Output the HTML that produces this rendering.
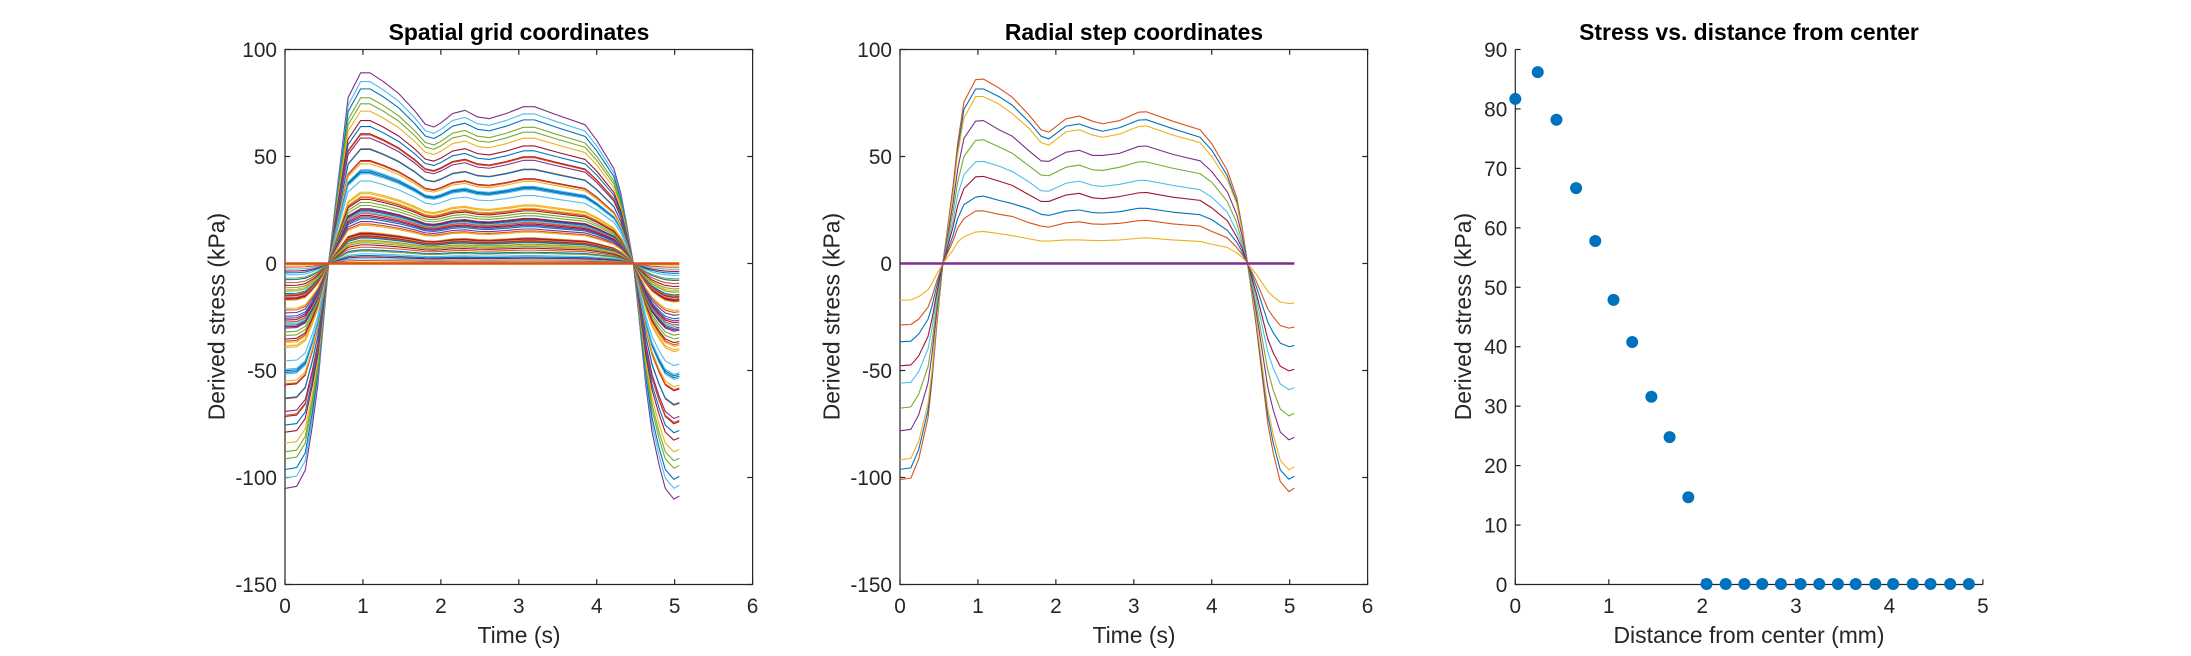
<!DOCTYPE html>
<html lang="en">
<head>
<meta charset="utf-8">
<title>Derived stress figure</title>
<style>
html,body{margin:0;padding:0;background:#fff;}
svg{display:block;}
text{font-family:"Liberation Sans",Arial,sans-serif;fill:#262626;}
</style>
</head>
<body>
<svg id="figure" xmlns="http://www.w3.org/2000/svg" width="2191" height="656" viewBox="0 0 2191 656">
  <rect x="0" y="0" width="2191" height="656" fill="#ffffff"/>
  <g id="panel-a"></g>
  <g id="panel-b"></g>
  <g id="panel-c"></g>
  <text x="519" y="40" text-anchor="middle" font-size="22.9" font-weight="700" style="fill:#000">Spatial grid coordinates</text>
  <text x="1134" y="40" text-anchor="middle" font-size="22.9" font-weight="700" style="fill:#000">Radial step coordinates</text>
  <text x="1749" y="40" text-anchor="middle" font-size="22.9" font-weight="700" style="fill:#000">Stress vs. distance from center</text>
  <text x="519" y="643" text-anchor="middle" font-size="22.9">Time (s)</text>
  <text x="1134" y="643" text-anchor="middle" font-size="22.9">Time (s)</text>
  <text x="1749" y="643" text-anchor="middle" font-size="22.9">Distance from center (mm)</text>
  <text transform="translate(224.5,316.6) rotate(-90)" text-anchor="middle" font-size="22.9">Derived stress (kPa)</text>
  <text transform="translate(839.5,316.6) rotate(-90)" text-anchor="middle" font-size="22.9">Derived stress (kPa)</text>
  <text transform="translate(1471,316.6) rotate(-90)" text-anchor="middle" font-size="22.9">Derived stress (kPa)</text>
</svg>
<script>
// ---- Panel A: spatial grid. One stress-time profile,
// and the peak stress of every grid point.
const gridTime = [0,.15,.26,.35,.42,.49,.56,.68,.81,.97,1.09,1.26,1.46,1.66,1.8,1.91,2.0,2.15,2.31,2.47,2.62,2.84,3.06,3.2,3.5,3.85,4.0,4.22,4.31,4.39,4.47,4.55,4.63,4.71,4.8,4.88,4.99,5.06];
const gridProfile = [-105,-104,-96.5,-76,-57,-29,0,38,77.4,89,89,85,79.3,71.5,65,63.7,65.6,70,71.5,68.4,67.6,70,73.2,73.2,69.2,64.8,57.5,44.3,32.6,17,0,-28,-57,-78.7,-94,-105,-110,-108.5];
const gridPeaks = [89.1,85,81.6,77.4,74.6,71.2,66.8,64,60.6,60.1,58.6,53.6,53.3,48.1,47.7,46.6,43.8,43.2,42.5,41.9,38.6,33.3,32.6,31.3,30.7,29.9,28.5,27.1,25.6,25.1,24.5,23.8,23.2,22.4,21.7,20.9,19.6,18.5,17.8,14.6,14.3,14,13.6,13.2,12.8,12.4,11.9,10.9,10.3,9.6,8.7,7.6,6.4,5.8,4.5,3.7,3,2.2,1.4,.6,0];
const gridColors = "plbggodbdrprbdrolbbllooordggpdblrdpbproordpodrbgogdrbglbdlror";

// ---- Panel B: radial steps
const radialTime = [0,.14,.24,.36,.41,.47,.55,.68,.74,.82,.97,1.07,1.27,1.44,1.66,1.81,1.91,2.13,2.3,2.47,2.6,2.82,3.06,3.16,3.5,3.85,4.0,4.2,4.32,4.39,4.46,4.57,4.72,4.79,4.88,4.99,5.06];
const radialStep1 = [-47.8,-47.4,-43.2,-34,-26,-14,0,17,27,35,40.5,40.7,38.5,36.5,32,29,29,32,32.8,30.7,30.3,31.3,33,33.2,31,29.5,26,20,12.5,7,0,-13.7,-35.4,-41.8,-48,-50.2,-49.4];
const radialStep2 = [-36.6,-36.3,-33,-26,-20,-10.8,0,13,21,27.5,31,31.5,29.5,28,25.5,23,22.5,24.5,25,23.8,23.6,24.2,25.8,25.8,24,22.8,20.5,15.5,10,5.5,0,-10.6,-27.4,-32.4,-37.2,-38.9,-38.3];
const radialStep3 = [-28.7,-28.5,-26,-20.4,-15.6,-8.4,0,10.5,16.5,21,24.5,24.6,23,22,19,17.5,17,19,19.5,18.5,18.3,18.8,20,20.2,18.5,17.5,15,12,7.5,4.2,0,-8.2,-21.2,-25,-29,-30.2,-29.7];
const radialStep4 = [-17.2,-17,-15.5,-12.3,-9.4,-5,0,6.3,10,12.5,14.7,15,14,13,11.5,10.5,10.5,11,11,10.8,10.7,11,11.8,12,11,10.3,9,7.5,5,2.9,0,-5,-13,-15.5,-18,-18.7,-18.4];
const radialStep5 = [0,0,0,0,0,0,0,0,0,0,0,0,0,0,0,0,0,0,0,0,0,0,0,0,0,0,0,0,0,0,0,0,0,0,0,0,0];
const radialStep6 = [-55.9,-55.5,-50.5,-39.8,-30.4,-16.4,0,20,32,41.5,47.5,47.7,45.5,43,38,34,33.8,37.5,38.5,36.5,36,37,38.8,38.8,36.5,34.5,31,24,15,8.5,0,-16,-41.5,-49,-56.3,-59,-58];
const radialStep7 = [-67.6,-67,-61,-48.2,-36.8,-19.9,0,24,38,50,57.5,57.8,54.5,51.5,45.5,41.3,41,45,46,43.8,43.5,45,47.5,47.5,44.5,42,38,29,19,10,0,-19.4,-50,-59.3,-68,-71.2,-70];
const radialStep8 = [-78.2,-77.5,-70.7,-55.7,-42.6,-23,0,28,44,58.5,66.5,66.8,62.5,59.5,52.5,48,47.7,52,52.9,50.5,50.5,51.5,54.7,54.9,51,48,43,33.5,23,13,0,-22.4,-58,-68.6,-78.8,-82.4,-81.2];
const radialStep9 = [-91.8,-91,-83,-65.5,-50,-27,0,32.5,51,68,78,78,74.5,70,63,56.5,55.3,61.5,62.5,60,59,60.5,64,64.3,60,56.5,50,39,28,15,0,-26,-68,-80,-92,-96.4,-95];
const radialStep10 = [-96.2,-95.5,-87,-68.5,-52.5,-28.3,0,34,53,72,81.5,81.6,78,74,66,59.5,58.2,64.2,65.2,63,61.8,63.5,67,67.2,63,59,53,41,29,16,0,-27.5,-71,-84,-96.5,-100.8,-99.4];
const radialStep11 = [-101,-100.3,-91.4,-72,-55,-29.7,0,36,56,75.4,85.9,86.2,82,77.7,69.2,62.5,61.4,67.6,68.9,66.5,65.3,66.8,70.7,70.9,66.5,62.5,56,43.5,31,17,0,-29,-75,-88.7,-101.9,-106.6,-105];
const radialSeries = [radialStep5,radialStep4,radialStep3,radialStep2,radialStep1,radialStep6,radialStep7,radialStep8,radialStep9,radialStep10,radialStep11];
const radialColors = "porbdlgpobr";

// ---- Panel C: stress vs. distance
const distanceMm = [0,.24,.44,.65,.855,1.05,1.25,1.455,1.65,1.85,2.045,2.25,2.45,2.64,2.84,3.05,3.25,3.45,3.64,3.85,4.04,4.25,4.44,4.65,4.85];
const peakStress = [81.6,86.1,78.1,66.6,57.7,47.8,40.7,31.5,24.7,14.6,0,0,0,0,0,0,0,0,0,0,0,0,0,0,0];

// ---- Tick labels
const timeTicks = [0,1,2,3,4,5,6];
const stressTicks = [100,50,0,-50,-100,-150];
const distanceTicks = [0,1,2,3,4,5];
const distanceStressTicks = [90,80,70,60,50,40,30,20,10,0];

const palette = {b:"#0072BD",r:"#D95319",o:"#EDB120",p:"#7E2F8E",g:"#77AC30",l:"#4DBEEE",d:"#A2142F"};
const NS = "http://www.w3.org/2000/svg";
const axTop = 49.5, axBottom = 584.5, axWidth = 467.6;

function make(parent, tag, attrs, text){
  const el = document.createElementNS(NS, tag);
  for(const k in attrs){ el.setAttribute(k, attrs[k]); }
  if(text !== undefined){ el.textContent = text; }
  parent.appendChild(el);
  return el;
}
function linearScale(d0, d1, r0, r1){
  return function(v){ return r0 + (v - d0) / (d1 - d0) * (r1 - r0); };
}
function drawAxes(parent, left, xTicks, yTicks, xMax, yMin, yMax, boxed){
  const right = left + axWidth;
  const sx = linearScale(0, xMax, left, right);
  const sy = linearScale(yMin, yMax, axBottom, axTop);
  const stroke = "#262626", sw = 1.2, len = 5.3;
  xTicks.forEach(function(t){
    const x = sx(t);
    const tick = make(parent, "line", {x1:x, x2:x, y1:axBottom, y2:axBottom-len, stroke:stroke, "stroke-width":sw});
    
    
    if(boxed){
      const topTick = make(parent, "line", {x1:x, x2:x, y1:axTop, y2:axTop+len, stroke:stroke, "stroke-width":sw});
      
      
    }
    const label = make(parent, "text", {x:x, y:613, "text-anchor":"middle", "font-size":20.8}, String(t));
    
    
  });
  yTicks.forEach(function(t){
    const y = sy(t);
    const tick = make(parent, "line", {x1:left, x2:left+len, y1:y, y2:y, stroke:stroke, "stroke-width":sw});
    
    
    if(boxed){
      const rightTick = make(parent, "line", {x1:right, x2:right-len, y1:y, y2:y, stroke:stroke, "stroke-width":sw});
      
      
    }
    const label = make(parent, "text", {x:left-8, y:y+7.5, "text-anchor":"end", "font-size":20.8}, String(t));
    
    
  });
  const pts = boxed
    ? [[left,axTop],[right,axTop],[right,axBottom],[left,axBottom]]
    : [[left,axTop],[left,axBottom],[right,axBottom]];
  const frame = make(parent, boxed ? "polygon" : "polyline", {points:pts.map(function(p){return p.join(",");}).join(" "), fill:"none", stroke:stroke, "stroke-width":sw});
  
  
  return {sx:sx, sy:sy};
}
function drawCurve(parent, xs, ys, ax, color, width, name){
  const d = xs.map(function(t, i){ return ax.sx(t).toFixed(2) + "," + ax.sy(ys[i]).toFixed(2); }).join(" ");
  const line = make(parent, "polyline", {points:d, fill:"none", stroke:color, "stroke-width":width, "stroke-linejoin":"round"});
  
  
}

// Panel A
(function(){
  const g = document.getElementById("panel-a");
  const ax = drawAxes(g, 285, timeTicks, stressTicks, 6, -150, 100, true);
  const profilePeak = Math.max.apply(null, gridProfile);
  gridPeaks.forEach(function(level, i){
    const ys = gridProfile.map(function(v){ return v * level / profilePeak; });
    drawCurve(g, gridTime, ys, ax, palette[gridColors[i]], level === 0 ? 2.4 : 1.1, "grid-point-curve");
  });
})();

// Panel B
(function(){
  const g = document.getElementById("panel-b");
  const ax = drawAxes(g, 900, timeTicks, stressTicks, 6, -150, 100, true);
  radialSeries.slice().reverse().forEach(function(ys, i){
    const idx = radialSeries.length - 1 - i;
    const isZero = ys.every(function(v){ return v === 0; });
    drawCurve(g, radialTime, ys, ax, palette[radialColors[idx]], isZero ? 2.4 : 1.1, "radial-step-curve");
  });
})();

// Panel C
(function(){
  const g = document.getElementById("panel-c");
  const ax = drawAxes(g, 1515.3, distanceTicks, distanceStressTicks, 5, 0, 90, false);
  distanceMm.forEach(function(d, i){
    const dot = make(g, "circle", {cx:ax.sx(d), cy:ax.sy(peakStress[i])-0.5, r:6, fill:"#0072BD"});
    
    
  });
})();
</script>
</body>
</html>
